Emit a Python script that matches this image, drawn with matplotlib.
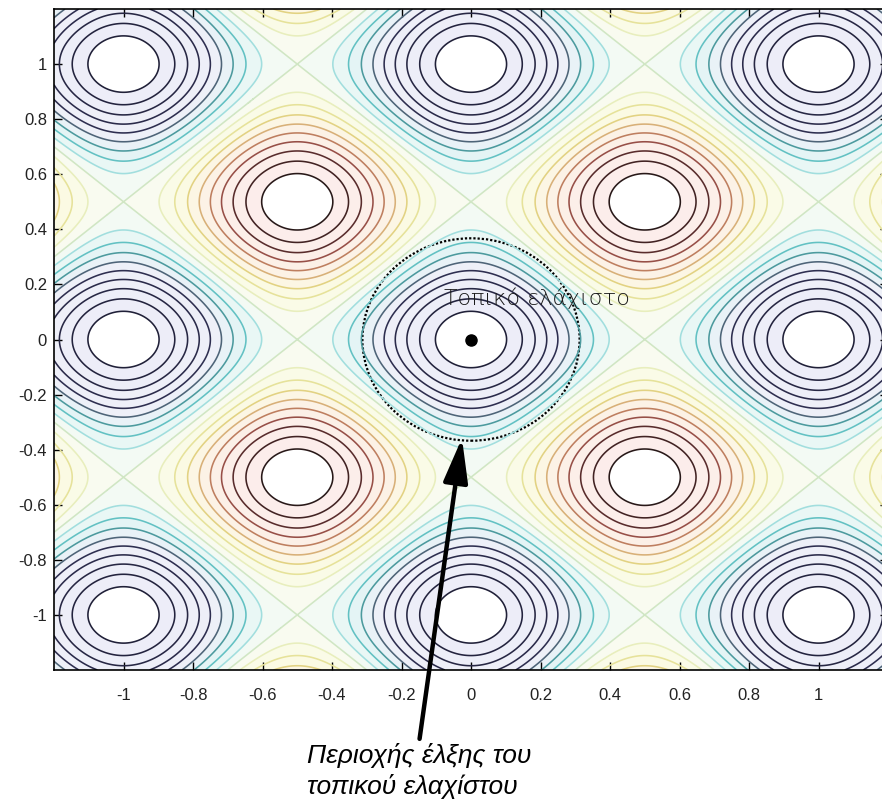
import numpy as np
import matplotlib
matplotlib.use("Agg")
import matplotlib.pyplot as plt
from matplotlib.colors import LinearSegmentedColormap
from matplotlib.patches import Ellipse

# surface f(x, y) = -(cos 2πx + cos 2πy) on the plotted window
x_range = (-1.2, 1.2)
y_range = (-1.2, 1.2)
levels = np.round(np.arange(-1.8, 1.81, 0.2), 2)
ticks = [-1, -0.8, -0.6, -0.4, -0.2, 0, 0.2, 0.4, 0.6, 0.8, 1]
tick_labels = ["-1", "-0.8", "-0.6", "-0.4", "-0.2", "0", "0.2", "0.4", "0.6", "0.8", "1"]
minimum = (0.0, 0.0)
basin_size = (0.625, 0.735)
label_min = "Τοπικό ελάχιστο"
label_basin = "Περιοχής έλξης του\nτοπικού ελαχίστου"

x = np.linspace(x_range[0], x_range[1], 601)
y = np.linspace(y_range[0], y_range[1], 601)
X, Y = np.meshgrid(x, y)
Z = -(np.cos(2 * np.pi * X) + np.cos(2 * np.pi * Y))

line_cmap = LinearSegmentedColormap.from_list("faded_jet", [
    (0.000, "#202038"),
    (0.222, "#2e2e50"),
    (0.278, "#4e6478"),
    (0.333, "#4c9a9e"),
    (0.389, "#62c2c4"),
    (0.444, "#a2dede"),
    (0.500, "#cfe6c4"),
    (0.556, "#e8eebe"),
    (0.611, "#e6e29a"),
    (0.667, "#e2d282"),
    (0.722, "#d8b078"),
    (0.778, "#c08060"),
    (0.833, "#9a5048"),
    (0.889, "#5a2c2c"),
    (1.000, "#281818"),
])
fill_cmap = LinearSegmentedColormap.from_list("pale", [
    (0.000, "#ededf8"),
    (0.250, "#eef0f8"),
    (0.380, "#e2f5f5"),
    (0.500, "#f8fbf4"),
    (0.620, "#fbfbe2"),
    (0.760, "#fcf1e6"),
    (1.000, "#fcecec"),
])
norm_vals = (levels - levels.min()) / (levels.max() - levels.min())
line_colors = [line_cmap(v) for v in norm_vals]

# pale band fills between the lines, white at the centres
band_levels = np.concatenate([[-2.01], levels, [2.01]])
band_colors = ["white"]
for i in range(len(levels) - 1):
    band_colors.append(fill_cmap((norm_vals[i] + norm_vals[i + 1]) / 2))
band_colors.append("white")

fig = plt.figure(figsize=(8.82, 8.01), dpi=100)
ax = fig.add_axes([54 / 882, 131 / 801, 834 / 882, 661 / 801])

ax.contourf(X, Y, Z, levels=band_levels, colors=band_colors)
ax.contour(X, Y, Z, levels=levels, colors=line_colors, linewidths=1.15)

ax.set_xlim(*x_range)
ax.set_ylim(*y_range)
ax.set_xticks(ticks)
ax.set_xticklabels(tick_labels)
ax.set_yticks(ticks)
ax.set_yticklabels(tick_labels)
ax.tick_params(direction="in", length=6, width=1.0, top=True, right=True,
               labelsize=12, colors="black")
ax.tick_params(axis="x", pad=13)
ax.tick_params(axis="y", pad=5)
for lab in ax.get_xticklabels() + ax.get_yticklabels():
    lab.set_fontfamily("Liberation Sans")
    lab.set_color("#222222")
for s in ax.spines.values():
    s.set_linewidth(1.2)

# local minimum and its basin of attraction
ax.plot(*minimum, "o", color="black", markersize=8)
ax.add_patch(Ellipse(minimum, basin_size[0], basin_size[1], fill=False,
                     edgecolor="black", linewidth=1.6, linestyle=(0, (1, 0.9))))
ax.text(0.19, 0.15, label_min, ha="center", va="center", fontsize=16,
        fontweight="light", color="#1a1a1a", family="DejaVu Sans")

ax.annotate("", xy=(-0.026, -0.358), xytext=(-0.148, -1.45),
            xycoords="data", textcoords="data", annotation_clip=False,
            arrowprops=dict(arrowstyle="-|>,head_length=2.7,head_width=0.75",
                            color="black", lw=3.2, shrinkA=0, shrinkB=0))
fig.text(307 / 882, 1 - 743 / 801, label_basin, ha="left", va="top",
         fontsize=19, style="italic", family="Liberation Sans",
         linespacing=1.28)

fig.savefig("out.png", dpi=100)
